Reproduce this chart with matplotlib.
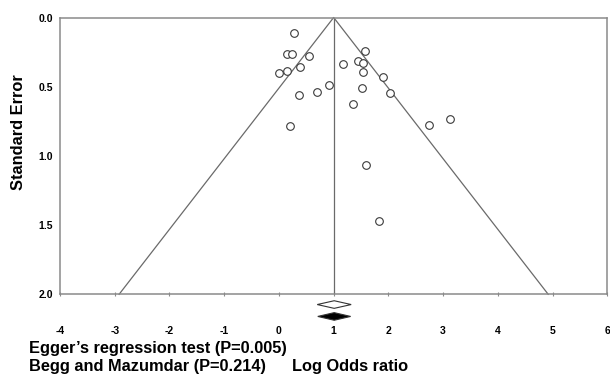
import matplotlib
matplotlib.use("Agg")
import matplotlib.pyplot as plt
from matplotlib.patches import Polygon

# Study data: log odds ratio and standard error
log_or = [0.28, 0.14, 0.24, 0.55, 0.00, 0.14, 0.39, 0.36, 0.70, 0.91, 0.21,
          1.17, 1.57, 1.44, 1.53, 1.54, 1.90, 1.51, 2.03, 1.36, 2.75, 3.13,
          1.59, 1.83]
std_err = [0.113, 0.267, 0.267, 0.279, 0.399, 0.385, 0.359, 0.558, 0.536,
           0.486, 0.787, 0.337, 0.245, 0.316, 0.330, 0.392, 0.433, 0.513,
           0.549, 0.623, 0.780, 0.731, 1.069, 1.473]

# Summary estimate (funnel centre) and pooled diamonds
pooled_center = 1.0
diamond_est = [1.01, 1.01]
diamond_lo = [0.70, 0.71]
diamond_hi = [1.32, 1.31]
diamond_row = [2.074, 2.16]
diamond_fill = [False, True]

xticks = [-4, -3, -2, -1, 0, 1, 2, 3, 4, 5, 6]
yticks = [0.0, 0.5, 1.0, 1.5, 2.0]
se_max = 2.0
z = 1.96

W, H = 610, 376
fig = plt.figure(figsize=(W / 100, H / 100), dpi=100)
ax = fig.add_axes([60 / W, 1 - 294.3 / H, (607.3 - 60) / W, (294.3 - 17.5) / H])

ax.set_xlim(-4, 6)
ax.set_ylim(se_max, 0)

line_c = "#6a6a6a"
# funnel
ax.plot([pooled_center - z * se_max, pooled_center, pooled_center + z * se_max],
        [se_max, 0, se_max], color=line_c, lw=0.9, clip_on=False)
ax.plot([pooled_center, pooled_center], [0, se_max], color=line_c, lw=0.9)

# points
ax.plot(log_or, std_err, linestyle="none", marker="o", ms=5.5,
        mfc="white", mec="#3a3a3a", mew=0.8, clip_on=False)

# diamonds
hh = 0.0275
for est, lo, hi, row, filled in zip(diamond_est, diamond_lo, diamond_hi,
                                    diamond_row, diamond_fill):
    pts = [(lo, row), (est, row - hh), (hi, row), (est, row + hh)]
    poly = Polygon(pts, closed=True, clip_on=False,
                   facecolor="black" if filled else "white",
                   edgecolor="#333333", lw=0.8)
    ax.add_patch(poly)

for s in ax.spines.values():
    s.set_color("#8a8a8a")
    s.set_linewidth(1.1)

narrow = ["Liberation Sans Narrow", "Liberation Sans", "DejaVu Sans"]
ax.set_xticks(xticks)
ax.set_xticklabels([str(t) for t in xticks], family=narrow,
                   fontweight="bold", fontsize=7.5)
ax.set_yticks(yticks)
ax.set_yticklabels([f"{t:.1f}" for t in yticks], family=narrow,
                   fontweight="bold", fontsize=7.5)
ax.tick_params(axis="x", direction="inout", length=3, width=0.8,
               color="#8a8a8a", pad=21)
ax.tick_params(axis="y", length=0, pad=5)

sans = ["Liberation Sans", "DejaVu Sans"]
fig.text(19 / W, 1 - 132 / H, "Standard Error", rotation=90, ha="center",
         va="center", family=sans, fontweight="bold", fontsize=11.8)
fig.text(29 / W, 1 - 348 / H, "Egger\u2019s regression test (P=0.005)",
         ha="left", va="center", family=sans, fontweight="bold", fontsize=11.8)
fig.text(29 / W, 1 - 367 / H, "Begg and Mazumdar (P=0.214)",
         ha="left", va="center", family=sans, fontweight="bold", fontsize=11.8)
fig.text(292 / W, 1 - 367 / H, "Log Odds ratio",
         ha="left", va="center", family=sans, fontweight="bold", fontsize=11.8)

fig.savefig("out.png", dpi=100, facecolor="white")
